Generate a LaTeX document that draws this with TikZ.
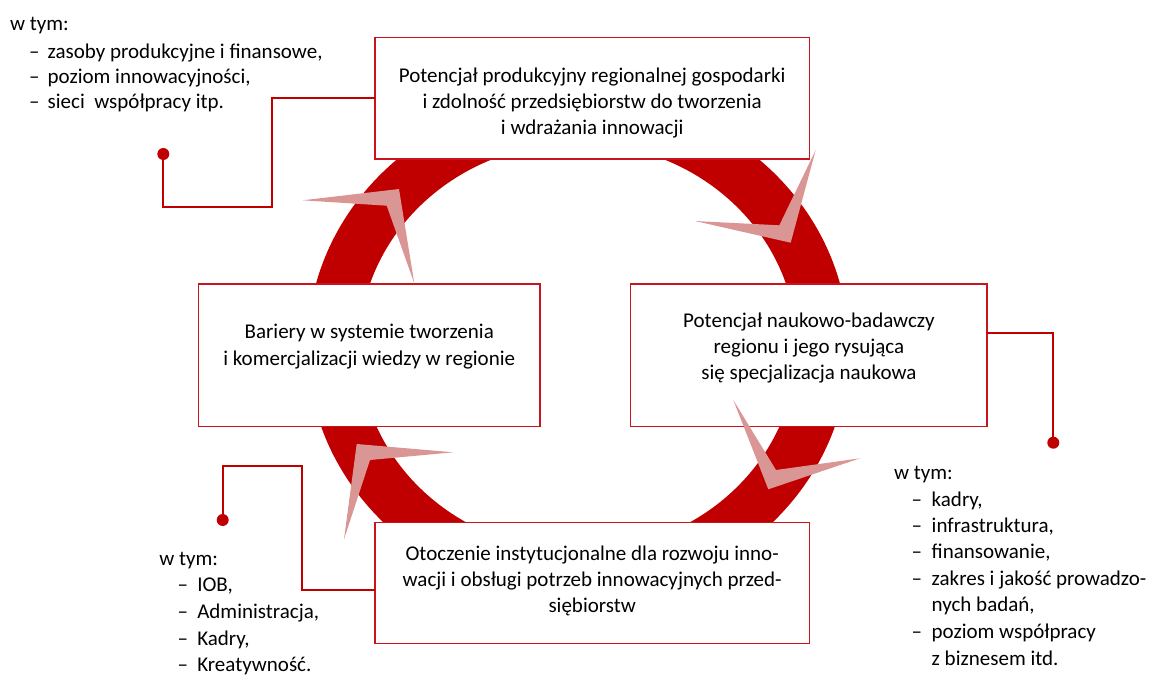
\documentclass[tikz,border=0pt]{standalone}
\usepackage{fontspec}
\setmainfont{Carlito}
\definecolor{ringred}{HTML}{C00000}
\definecolor{chevpink}{HTML}{D99694}
\definecolor{boxred}{HTML}{C8141C}
\begin{document}
\begin{tikzpicture}[x=1pt,y=-1pt,
  boxshape/.style={draw=boxred, line width=1.2pt, fill=white, rectangle, inner sep=0pt, outer sep=0pt},
  txt/.style={inner sep=0pt, outer sep=0pt, font=\fontsize{21}{26}\selectfont},
  callout/.style={draw=ringred, line width=2pt},
  dotmark/.style={circle, fill=ringred, inner sep=0pt, minimum size=12pt},
  chevron/.style={fill=chevpink}]
\useasboundingbox (0,0) rectangle (1152,675);
% ring
\fill[ringred, even odd rule] (578,347) ellipse [x radius=270.6pt, y radius=252.4pt]
      (578,347) ellipse [x radius=218.7pt, y radius=204pt];
% boxes
\node[boxshape, minimum width=434.3pt, minimum height=121.3pt] (tbox) at (592.2,98.4) {};
\node[boxshape, minimum width=341.7pt, minimum height=142.7pt] (lbox) at (369.2,355.4) {};
\node[boxshape, minimum width=356.3pt, minimum height=142.7pt] (rbox) at (808.9,355.4) {};
\node[boxshape, minimum width=434.3pt, minimum height=120.6pt] (bbx) at (592.2,583) {};
% chevrons
\fill[chevron] (302.7,200.3) -- (399,189) -- (414.3,283.3) -- (386.7,205.7) -- cycle;
\fill[chevron] (815.7,150) -- (790.7,242.7) -- (695,221) -- (779.3,225.3) -- cycle;
\fill[chevron] (453.3,452.3) -- (356.7,444) -- (344,539.3) -- (370,460) -- cycle;
\fill[chevron] (733.3,400) -- (768.3,489.3) -- (860,458.3) -- (776,470) -- cycle;
% box texts
\node[txt, anchor=base] (t1) at (592.2,82) {Potencjał produkcyjny regionalnej gospodarki};
\node[txt, anchor=base] (t2) at (592.2,108) {i zdolność przedsiębiorstw do tworzenia};
\node[txt, anchor=base] (t3) at (592.2,134) {i wdrażania innowacji};
\node[txt, anchor=base] (l1) at (369.2,338.3) {Bariery w systemie tworzenia};
\node[txt, anchor=base] (l2) at (369.2,365.7) {i komercjalizacji wiedzy w regionie};
\node[txt, anchor=base] (r1) at (808.9,327) {Potencjał naukowo-badawczy};
\node[txt, anchor=base] (r2) at (808.9,353) {regionu i jego rysująca};
\node[txt, anchor=base] (r3) at (808.9,379) {się specjalizacja naukowa};
\node[txt, anchor=base] (b1) at (592.2,560) {Otoczenie instytucjonalne dla rozwoju inno-};
\node[txt, anchor=base] (b2) at (592.2,586) {wacji i obsługi potrzeb innowacyjnych przed-};
\node[txt, anchor=base] (b3) at (592.2,612) {siębiorstw};
% top-left list
\node[txt, anchor=base west] (tla) at (10,30) {w tym:};
\node[txt, anchor=base west] (tlb) at (29,58.3) {\makebox[18.7pt][l]{–}zasoby produkcyjne i finansowe,};
\node[txt, anchor=base west] (tlc) at (29,83.3) {\makebox[18.7pt][l]{–}poziom innowacyjności,};
\node[txt, anchor=base west] (tld) at (29,108.3) {\makebox[18.7pt][l]{–}sieci~ współpracy itp.};
% right list
\node[txt, anchor=base west] (rla) at (894,479) {w tym:};
\node[txt, anchor=base west] (rlb) at (911.7,506.7) {\makebox[20pt][l]{–}kadry,};
\node[txt, anchor=base west] (rlc) at (911.7,532.3) {\makebox[20pt][l]{–}infrastruktura,};
\node[txt, anchor=base west] (rld) at (911.7,558.3) {\makebox[20pt][l]{–}finansowanie,};
\node[txt, anchor=base west] (rle) at (911.7,585) {\makebox[20pt][l]{–}zakres i jakość prowadzo-};
\node[txt, anchor=base west] (rlf) at (931.7,611.7) {nych badań,};
\node[txt, anchor=base west] (rlg) at (911.7,638.3) {\makebox[20pt][l]{–}poziom współpracy};
\node[txt, anchor=base west] (rlh) at (931.7,665) {z biznesem itd.};
% bottom-left list
\node[txt, anchor=base west] (bla) at (159.3,565) {w tym:};
\node[txt, anchor=base west] (blb) at (177.7,591.7) {\makebox[19.6pt][l]{–}IOB,};
\node[txt, anchor=base west] (blc) at (177.7,618.3) {\makebox[19.6pt][l]{–}Administracja,};
\node[txt, anchor=base west] (bld) at (177.7,645) {\makebox[19.6pt][l]{–}Kadry,};
\node[txt, anchor=base west] (ble) at (177.7,671.7) {\makebox[19.6pt][l]{–}Kreatywność.};
% callouts
\node[dotmark] (tldot) at (163.3,154) {};
\node[dotmark] (rdot) at (1053.3,442.7) {};
\node[dotmark] (bldot) at (222.7,520) {};
\coordinate (tlk) at (272.3,207.3);
\coordinate (rk) at (1053.3,333.3);
\coordinate (blb2) at (301.7,590);
\coordinate (blk) at (301.7,466);
\draw[callout] (tbox.west) -| (tlk) -| (tldot.center);
\draw[callout] (rk -| rbox.east) -- (rk) -- (rdot.center);
\draw[callout] (blb2 -| bbx.west) -- (blb2) -- (blk) -| (bldot.center);
\end{tikzpicture}
\end{document}
